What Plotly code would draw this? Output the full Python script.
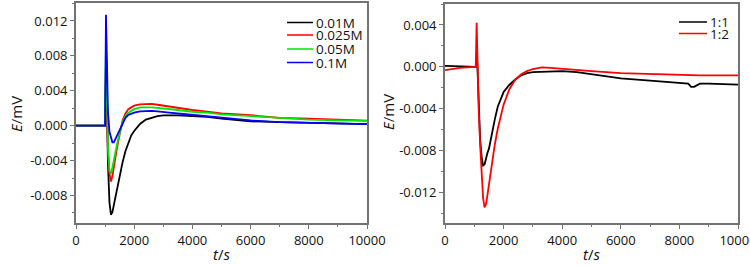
import plotly.graph_objects as go

# ---------------- data ----------------
# Left panel: E (mV) vs t (s) for four concentrations
t_left = [0, 500, 1000, 1030, 1060, 1100, 1150, 1200, 1250, 1300, 1400, 1500, 1600,
          1700, 1800, 1900, 2000, 2200, 2400, 2600, 2800, 3000, 3200, 3500, 4000,
          4500, 5000, 6000, 7000, 8000, 9000, 10000]
E_001M = [0, 0, 0, 0.0075, 0.0020, -0.0045, -0.0088, -0.0102, -0.0099, -0.0091, -0.0072,
          -0.0056, -0.0042, -0.0029, -0.0019, -0.0011, -0.0006, 0.0002, 0.0007, 0.0009,
          0.0011, 0.00118, 0.0012, 0.00118, 0.0011, 0.0010, 0.0008, 0.0005, 0.0004,
          0.0003, 0.0002, 0.00018]
E_0025M = [0, 0, 0, 0.0057, 0.0010, -0.0030, -0.0055, -0.0064, -0.0058, -0.0046, -0.0027,
           -0.0010, 0.0006, 0.0014, 0.0019, 0.0021, 0.0023, 0.00245, 0.0025, 0.0025,
           0.0024, 0.0023, 0.00215, 0.0020, 0.0018, 0.0016, 0.0014, 0.0012, 0.0009,
           0.0008, 0.00065, 0.00057]
E_005M = [0, 0, 0, 0.0095, 0.0030, -0.0025, -0.0052, -0.0055, -0.0048, -0.0038, -0.0023,
          -0.0008, 0.0004, 0.0011, 0.0015, 0.0017, 0.0019, 0.0021, 0.00212, 0.0021,
          0.00205, 0.0020, 0.0019, 0.0018, 0.0016, 0.0015, 0.0013, 0.0011, 0.0009,
          0.0007, 0.0006, 0.00055]
E_01M = [0, 0, 0, 0.0127, 0.0060, 0.0015, -0.0007, -0.0015, -0.0019, -0.0019, -0.0012,
         -0.0003, 0.0004, 0.0009, 0.00125, 0.0014, 0.0015, 0.00165, 0.0017, 0.0017,
         0.00165, 0.00155, 0.0015, 0.0014, 0.00123, 0.0011, 0.0009, 0.0006, 0.0004,
         0.0003, 0.0002, 0.00017]

# Right panel: E (mV) vs t (s) for two ratios
t_right = [0, 500, 1000, 1050, 1080, 1100, 1150, 1200, 1250, 1300, 1350, 1400, 1450,
           1500, 1600, 1700, 1800, 1900, 2000, 2200, 2400, 2600, 2800, 3000, 3300,
           3600, 4000, 4500, 5000, 6000, 7000, 8000, 8200, 8300, 8400, 8500, 8700,
           9000, 10000]
E_11 = [0.0001, 0.00005, 0, 0, 0.0, 0.0005, -0.0040, -0.0070, -0.0086, -0.0094,
        -0.0093, -0.0086, -0.0082, -0.0078, -0.0062, -0.0050, -0.0038, -0.0030, -0.0024,
        -0.0017, -0.0012, -0.0008, -0.0006, -0.0005, -0.00045, -0.0004, -0.0004,
        -0.0005, -0.0007, -0.0011, -0.0013, -0.0015, -0.0016, -0.0016, -0.0019,
        -0.0019, -0.0016, -0.0016, -0.0017]
E_12 = [-0.0003, -0.0001, 0, 0, 0.0042, 0.0015, -0.0040, -0.0075, -0.0105, -0.0125,
        -0.0134, -0.0131, -0.0122, -0.0112, -0.0092, -0.0074, -0.0059, -0.0046, -0.0036,
        -0.0021, -0.0012, -0.0007, -0.0004, -0.0002, -0.00005, -0.0001, -0.0002,
        -0.0003, -0.0004, -0.0006, -0.0007, -0.0008, -0.0008, -0.0008, -0.0008,
        -0.0008, -0.0008, -0.0008, -0.0008]

left_names = ["0.01M", "0.025M", "0.05M", "0.1M"]
right_names = ["1:1", "1:2"]

x_ticks = [0, 2000, 4000, 6000, 8000, 10000]
x_ticktext = ["0", "2000", "4000", "6000", "8000", "10000"]
yl_ticks = [-0.008, -0.004, 0.0, 0.004, 0.008, 0.012]
yl_ticktext = ["-0.008", "-0.004", "0.000", "0.004", "0.008", "0.012"]
yr_ticks = [-0.012, -0.008, -0.004, 0.0, 0.004]
yr_ticktext = ["-0.012", "-0.008", "-0.004", "0.000", "0.004"]

# ---------------- style ----------------
W, H = 750, 268
FONT = "Open Sans"
AX = "#737373"
colors_left = ["#000000", "#ff0000", "#00e600", "#0000ff"]
colors_right = ["#000000", "#ff0000"]

def px(x):
    return x / W

def py(y):
    return 1 - y / H

fig = go.Figure()

for name, E, c in zip(left_names, [E_001M, E_0025M, E_005M, E_01M], colors_left):
    fig.add_trace(go.Scatter(x=t_left, y=E, mode="lines", name=name,
                             line=dict(color=c, width=1.8), xaxis="x", yaxis="y",
                             showlegend=False, hoverinfo="skip"))
for name, E, c in zip(right_names, [E_11, E_12], colors_right):
    fig.add_trace(go.Scatter(x=t_right, y=E, mode="lines", name=name,
                             line=dict(color=c, width=1.8), xaxis="x2", yaxis="y2",
                             showlegend=False, hoverinfo="skip"))

def xaxis(domain, anchor):
    return dict(domain=domain, anchor=anchor, range=[0, 10000], automargin=False,
                tickmode="array", tickvals=x_ticks, ticktext=x_ticktext,
                ticklabeloverflow="allow",
                ticks="outside", ticklen=4, tickwidth=1, tickcolor=AX,
                minor=dict(tickmode="linear", tick0=0, dtick=1000, ticks="outside",
                           ticklen=2.5, tickcolor=AX, tickwidth=1),
                showline=True, linecolor=AX, linewidth=1.8, mirror=True,
                showgrid=False, zeroline=False,
                tickfont=dict(family=FONT, size=13, color="#111"))

def yaxis(domain, anchor, rng, tv, tt):
    return dict(domain=domain, anchor=anchor, range=rng, automargin=False,
                tickmode="array", tickvals=tv, ticktext=tt,
                ticklabeloverflow="allow",
                ticks="outside", ticklen=4, tickwidth=1, tickcolor=AX,
                minor=dict(tickmode="linear", tick0=0, dtick=0.002, ticks="outside",
                           ticklen=2.5, tickcolor=AX, tickwidth=1),
                showline=True, linecolor=AX, linewidth=1.8, mirror=True,
                showgrid=False, zeroline=False,
                tickfont=dict(family=FONT, size=13, color="#111"))

# initial size leaves room for the default 8px body margin; resized to 750x268 after load
fig.update_layout(
    width=W - 16, height=H - 16, autosize=False,
    margin=dict(l=0, r=0, t=0, b=0, pad=0, autoexpand=False),
    paper_bgcolor="white", plot_bgcolor="white",
    xaxis=xaxis([px(76), px(367)], "y"),
    yaxis=yaxis([py(223), py(3)], "x", [-0.01115, 0.01406], yl_ticks, yl_ticktext),
    xaxis2=xaxis([px(445), px(738)], "y2"),
    yaxis2=yaxis([py(223), py(4)], "x2", [-0.01489, 0.0060], yr_ticks, yr_ticktext),
)

ann = []
shapes = []
# axis titles
for cx in (221.5, 591):
    ann.append(dict(x=px(cx), y=py(254), xref="paper", yref="paper", showarrow=False,
                    text="<i>t</i>/<i>s</i>", font=dict(family=FONT, size=15, color="#111"),
                    xanchor="center", yanchor="middle"))
for cx, cy in ((16, 114), (388, 112)):
    ann.append(dict(x=px(cx), y=py(cy), xref="paper", yref="paper", showarrow=False,
                    text="<i>E</i>/mV", textangle=-90,
                    font=dict(family=FONT, size=15, color="#111"),
                    xanchor="center", yanchor="middle"))

# manual legends
left_leg_y = [22.5, 35, 49, 62.5]
for name, c, yy in zip(left_names, colors_left, left_leg_y):
    shapes.append(dict(type="line", xref="paper", yref="paper",
                       x0=px(287), x1=px(313), y0=py(yy), y1=py(yy),
                       line=dict(color=c, width=1.5)))
    ann.append(dict(x=px(313.5), y=py(yy), xref="paper", yref="paper", showarrow=False,
                    text=name, font=dict(family=FONT, size=13.5, color="#111"),
                    xanchor="left", yanchor="middle"))
right_leg_y = [22, 33.5]
for name, c, yy in zip(right_names, colors_right, right_leg_y):
    shapes.append(dict(type="line", xref="paper", yref="paper",
                       x0=px(679), x1=px(707), y0=py(yy), y1=py(yy),
                       line=dict(color=c, width=1.5)))
    ann.append(dict(x=px(707.5), y=py(yy), xref="paper", yref="paper", showarrow=False,
                    text=name, font=dict(family=FONT, size=13.5, color="#111"),
                    xanchor="left", yanchor="middle"))

fig.update_layout(annotations=ann, shapes=shapes)

post = ("document.documentElement.style.margin='0';"
        "document.body.style.margin='0';document.body.style.padding='0';"
        "document.body.style.overflow='hidden';"
        "var gd=document.getElementById('{plot_id}');"
        "gd.style.width='750px';gd.style.height='268px';"
        "Plotly.relayout(gd,{width:750,height:268});")
fig.write_html("out.html", config={"responsive": False, "displayModeBar": False},
               post_script=post)
